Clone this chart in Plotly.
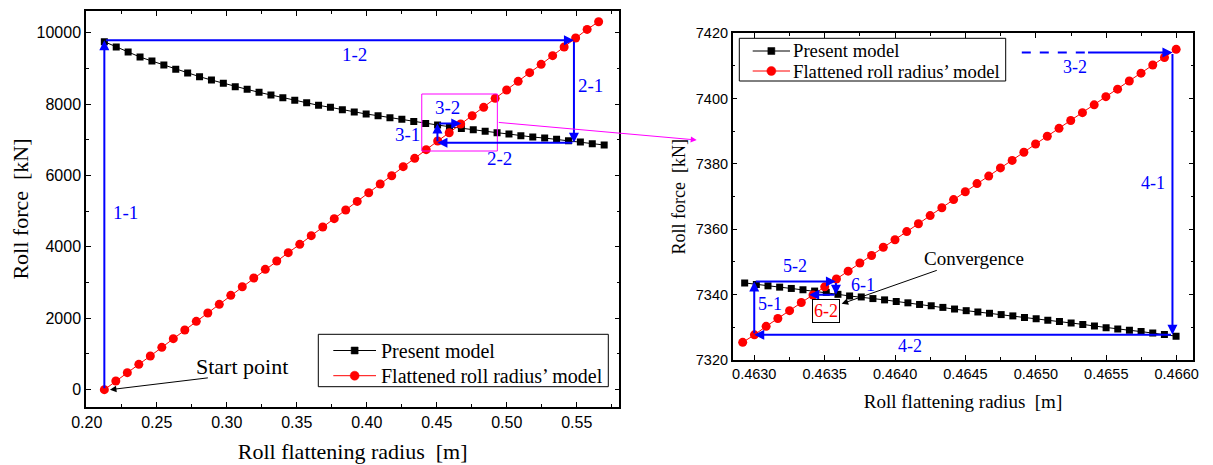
import plotly.graph_objects as go

# ---------------- data ----------------
# Full range: present model (black squares) and flattened roll radius' model (red circles)
full_present_x0, full_present_dx = 0.2126, 0.00850
full_present_force = [9748, 9598, 9458, 9318, 9206, 9094, 8973, 8870, 8768, 8674, 8581,
                      8487, 8413, 8329, 8254, 8179, 8105, 8039, 7965, 7909, 7843, 7778,
                      7722, 7675, 7619, 7573, 7516, 7460, 7414, 7367, 7320, 7283, 7236,
                      7199, 7161, 7115, 7077, 7049, 7012, 6975, 6937, 6891, 6854]
full_flat_x0, full_flat_dx = 0.2126, 0.00821
full_flat_force = [0, 243, 476, 710, 943, 1186, 1429, 1671, 1914, 2148, 2390, 2642, 2885,
                   3128, 3371, 3604, 3838, 4071, 4314, 4557, 4790, 5033, 5275, 5518, 5761,
                   5994, 6247, 6480, 6723, 6965, 7199, 7442, 7675, 7909, 8161, 8394, 8637,
                   8880, 9113, 9356, 9599, 9851, 10093, 10308]

# Zoomed range near convergence
zoom_present_x0, zoom_present_dx = 0.462932, 0.0000828
zoom_present_force = [7343.6, 7343.1, 7342.7, 7342.3, 7341.9, 7341.5, 7341.1, 7340.7, 7340.1,
                      7339.6, 7339.3, 7338.8, 7338.4, 7337.9, 7337.5, 7337.0, 7336.6, 7336.1,
                      7335.6, 7335.1, 7334.7, 7334.3, 7333.9, 7333.5, 7333.0, 7332.6, 7332.2,
                      7331.8, 7331.3, 7330.9, 7330.4, 7329.9, 7329.5, 7329.1, 7328.7, 7328.3,
                      7327.8, 7327.3]
zoom_flat_x0, zoom_flat_dx = 0.462918, 0.0000832
zoom_flat_force = [7325.4, 7327.7, 7330.3, 7332.7, 7335.1, 7337.6, 7339.9, 7342.4, 7344.8,
                   7347.2, 7349.7, 7352.0, 7354.5, 7356.8, 7359.3, 7361.7, 7364.2, 7366.6,
                   7369.1, 7371.5, 7374.0, 7376.3, 7378.8, 7381.1, 7383.6, 7386.1, 7388.5,
                   7390.9, 7393.3, 7395.7, 7398.1, 7400.6, 7402.9, 7405.4, 7407.8, 7410.3,
                   7412.6, 7415.1]

# Iteration paths (vertices) and step names
iter_full_x = [0.2126, 0.2126, 0.5480, 0.5480, 0.4505, 0.4505, 0.4675]
iter_full_y = [0, 9790, 9790, 6920, 6920, 7455, 7455]
iter_full_names = ["1-1", "1-2", "2-1", "2-2", "3-1", "3-2"]

iter_zoom_x = [0.46597, 0.46597, 0.46300, 0.46300, 0.46358, 0.46358, 0.46339]
iter_zoom_y = [7414.1, 7327.7, 7327.7, 7344.0, 7344.0, 7340.0, 7340.0]
iter_zoom_names = ["4-1", "4-2", "5-1", "5-2", "6-1", "6-2"]
incoming_zoom_x = [0.46490, 0.46597]   # step 3-2 entering the zoomed window
incoming_zoom_y = [7414.1, 7414.1]

x_full_ticks = [0.20, 0.25, 0.30, 0.35, 0.40, 0.45, 0.50, 0.55]
y_full_ticks = [0, 2000, 4000, 6000, 8000, 10000]
x_zoom_ticks = [0.4630, 0.4635, 0.4640, 0.4645, 0.4650, 0.4655, 0.4660]
y_zoom_ticks = [7320, 7340, 7360, 7380, 7400, 7420]

series_names = ["Present model", "Flattened roll radius\u2019 model"]


def xs(x0, dx, n):
    return [x0 + i * dx for i in range(n)]


SERIF = "Liberation Serif, Times New Roman, serif"
SANS = "Liberation Sans, Arial, sans-serif"
BLUE = "#0000ff"
RED = "#ff0000"
W, H = 1213, 465

fig = go.Figure()

# ---------------- traces ----------------
sq = dict(symbol="square", size=7, color="black")
ci = dict(symbol="circle", size=9, color=RED)

fig.add_trace(go.Scatter(x=xs(full_present_x0, full_present_dx, len(full_present_force)),
                         y=full_present_force, mode="lines+markers", name=series_names[0],
                         line=dict(color="black", width=1), marker=sq,
                         xaxis="x", yaxis="y", showlegend=False))
fig.add_trace(go.Scatter(x=xs(full_flat_x0, full_flat_dx, len(full_flat_force)),
                         y=full_flat_force, mode="lines+markers", name=series_names[1],
                         line=dict(color=RED, width=1), marker=ci,
                         xaxis="x", yaxis="y", showlegend=False))
fig.add_trace(go.Scatter(x=xs(zoom_present_x0, zoom_present_dx, len(zoom_present_force)),
                         y=zoom_present_force, mode="lines+markers", name=series_names[0],
                         line=dict(color="black", width=1), marker=sq,
                         xaxis="x2", yaxis="y2", showlegend=False))
fig.add_trace(go.Scatter(x=xs(zoom_flat_x0, zoom_flat_dx, len(zoom_flat_force)),
                         y=zoom_flat_force, mode="lines+markers", name=series_names[1],
                         line=dict(color=RED, width=1), marker=ci,
                         xaxis="x2", yaxis="y2", showlegend=False))

annotations = []
shapes = []


def arrow(x0, y0, x1, y1, xr, yr, color=BLUE, width=2, head=2, size=1.0):
    annotations.append(dict(x=x1, y=y1, ax=x0, ay=y0, xref=xr, yref=yr, axref=xr, ayref=yr,
                            text="", showarrow=True, arrowhead=head, arrowsize=size,
                            arrowwidth=width, arrowcolor=color, standoff=0, startstandoff=0))


def label(text, x, y, xr, yr, size, color=BLUE, **kw):
    annotations.append(dict(x=x, y=y, xref=xr, yref=yr, text=text, showarrow=False,
                            font=dict(family=SERIF, size=size, color=color), **kw))


# iteration arrows, full range
for i in range(len(iter_full_names)):
    arrow(iter_full_x[i], iter_full_y[i], iter_full_x[i + 1], iter_full_y[i + 1], "x", "y")
full_label_pos = [(0.2274, 4950), (0.3911, 9395), (0.5600, 8535),
                  (0.4945, 6482), (0.4290, 7135), (0.4579, 7910)]
for name, (lx, ly) in zip(iter_full_names, full_label_pos):
    label(name, lx, ly, "x", "y", 19)

# iteration arrows, zoomed range
shapes.append(dict(type="line", xref="x2", yref="y2", x0=incoming_zoom_x[0], x1=0.46535,
                   y0=incoming_zoom_y[0], y1=incoming_zoom_y[0],
                   line=dict(color=BLUE, width=2, dash="dash")))
arrow(0.46536, incoming_zoom_y[1], incoming_zoom_x[1], incoming_zoom_y[1], "x2", "y2")
for i in range(len(iter_zoom_names)):
    arrow(iter_zoom_x[i], iter_zoom_y[i], iter_zoom_x[i + 1], iter_zoom_y[i + 1], "x2", "y2")
label("3-2", 0.46528, 7409.6, "x2", "y2", 18)
zoom_label_pos = [(0.465834, 7374.2), (0.464105, 7324.4), (0.463111, 7337.0),
                  (0.463288, 7348.7), (0.463770, 7343.0)]
for name, (lx, ly) in zip(iter_zoom_names[:5], zoom_label_pos):
    label(name, lx, ly, "x2", "y2", 18)
label("6-2", 0.463507, 7335.1, "x2", "y2", 18, color=RED,
      bordercolor="black", borderwidth=1, borderpad=1)

# start point and convergence call-outs
label("Start point", 0.3111, 645, "x", "y", 22, color="black")
arrow(0.2876, 336, 0.2166, 0, "x", "y", color="black", width=1, head=2, size=1.3)
label("Convergence", 0.464560, 7351.0, "x2", "y2", 19, color="black")
arrow(0.464307, 7347.6, 0.463621, 7337.2, "x2", "y2", color="black", width=1, head=2, size=1.3)

# magnified window and pointer to the zoomed panel
shapes.append(dict(type="rect", xref="x", yref="y", x0=0.4393, x1=0.4933, y0=6686, y1=8283,
                   line=dict(color="#ff00ff", width=1)))
annotations.append(dict(x=696.7 / W, y=1 - 140 / H, xref="paper", yref="paper",
                        ax=497.3 - 696.7, ay=122.3 - 140, axref="pixel", ayref="pixel",
                        text="", showarrow=True, arrowhead=2, arrowsize=1.2, arrowwidth=1,
                        arrowcolor="#ff00ff", standoff=0))


# ---------------- legends (drawn in pixel space, converted to paper) ----------------
def px(x):
    return x / W


def py(y):
    return 1 - y / H


def legend_box(box, rows_y, line_x, text_x, size):
    x0, y0, x1, y1 = box
    shapes.append(dict(type="rect", xref="paper", yref="paper", x0=px(x0), x1=px(x1),
                       y0=py(y1), y1=py(y0), line=dict(color="black", width=1),
                       fillcolor="white", layer="above"))
    styles = [("black", "rect", 3.5), (RED, "circle", 4.5)]
    cx = (line_x[0] + line_x[1]) / 2
    for ry, name, (col, kind, r) in zip(rows_y, series_names, styles):
        shapes.append(dict(type="line", xref="paper", yref="paper", x0=px(line_x[0]),
                           x1=px(line_x[1]), y0=py(ry), y1=py(ry),
                           line=dict(color=col, width=1), layer="above"))
        shapes.append(dict(type=kind, xref="paper", yref="paper", x0=px(cx - r), x1=px(cx + r),
                           y0=py(ry + r), y1=py(ry - r), line=dict(color=col, width=0.5),
                           fillcolor=col, layer="above"))
        annotations.append(dict(x=px(text_x), y=py(ry), xref="paper", yref="paper",
                                xanchor="left", yanchor="middle", text=name, showarrow=False,
                                borderpad=0,
                                font=dict(family=SERIF, size=size, color="black")))


legend_box((318.3, 334.3, 608.3, 386.7), (350.5, 375.7), (333.3, 376.0), 380.0, 20)
legend_box((739.3, 38.3, 1005.7, 81.0), (51.0, 71.0), (752.7, 790.0), 792.0, 18.7)


# ---------------- axes ----------------
def axis(dom, rng, tickvals, fmt, minor_dtick, title, tsize, lsize, standoff, anchor):
    return dict(domain=dom, range=rng, tickvals=tickvals, tickformat=fmt, anchor=anchor,
                showline=True, linecolor="black", linewidth=1.5, mirror="ticks",
                ticks="inside", ticklen=5, tickwidth=1, tickcolor="black",
                minor=dict(ticks="inside", ticklen=3, tickwidth=1, tickcolor="black",
                           dtick=minor_dtick, tick0=tickvals[0]),
                showgrid=False, zeroline=False, automargin=False,
                tickfont=dict(family=SANS, size=lsize, color="black"),
                title=dict(text=title, font=dict(family=SERIF, size=tsize, color="black"),
                           standoff=standoff))


fig.update_layout(
    width=W, height=H, margin=dict(l=0, r=0, t=0, b=0),
    paper_bgcolor="white", plot_bgcolor="white", showlegend=False,
    xaxis=axis([86 / W, 619.3 / W], [0.1995, 0.5804], x_full_ticks, ".2f", 0.025,
               "Roll flattening radius\u00a0 [m]", 22, 16, 14, "y"),
    yaxis=axis([1 - 407 / H, 1 - 11 / H], [-485, 10608], y_full_ticks, "d", 1000,
               "Roll force\u00a0 [kN]", 22, 16, 2, "x"),
    xaxis2=axis([732.7 / W, 1193.3 / W], [0.462847, 0.466118], x_zoom_ticks, ".4f", 0.00025,
                "Roll flattening radius\u00a0 [m]", 19, 14.5, 14, "y2"),
    yaxis2=axis([1 - 360 / H, 1 - 33.3 / H], [7320, 7420], y_zoom_ticks, "d", 10,
                "Roll force\u00a0 [kN]", 18, 14.5, 5, "x2"),
    annotations=annotations, shapes=shapes,
)

fig.write_html("out.html")
